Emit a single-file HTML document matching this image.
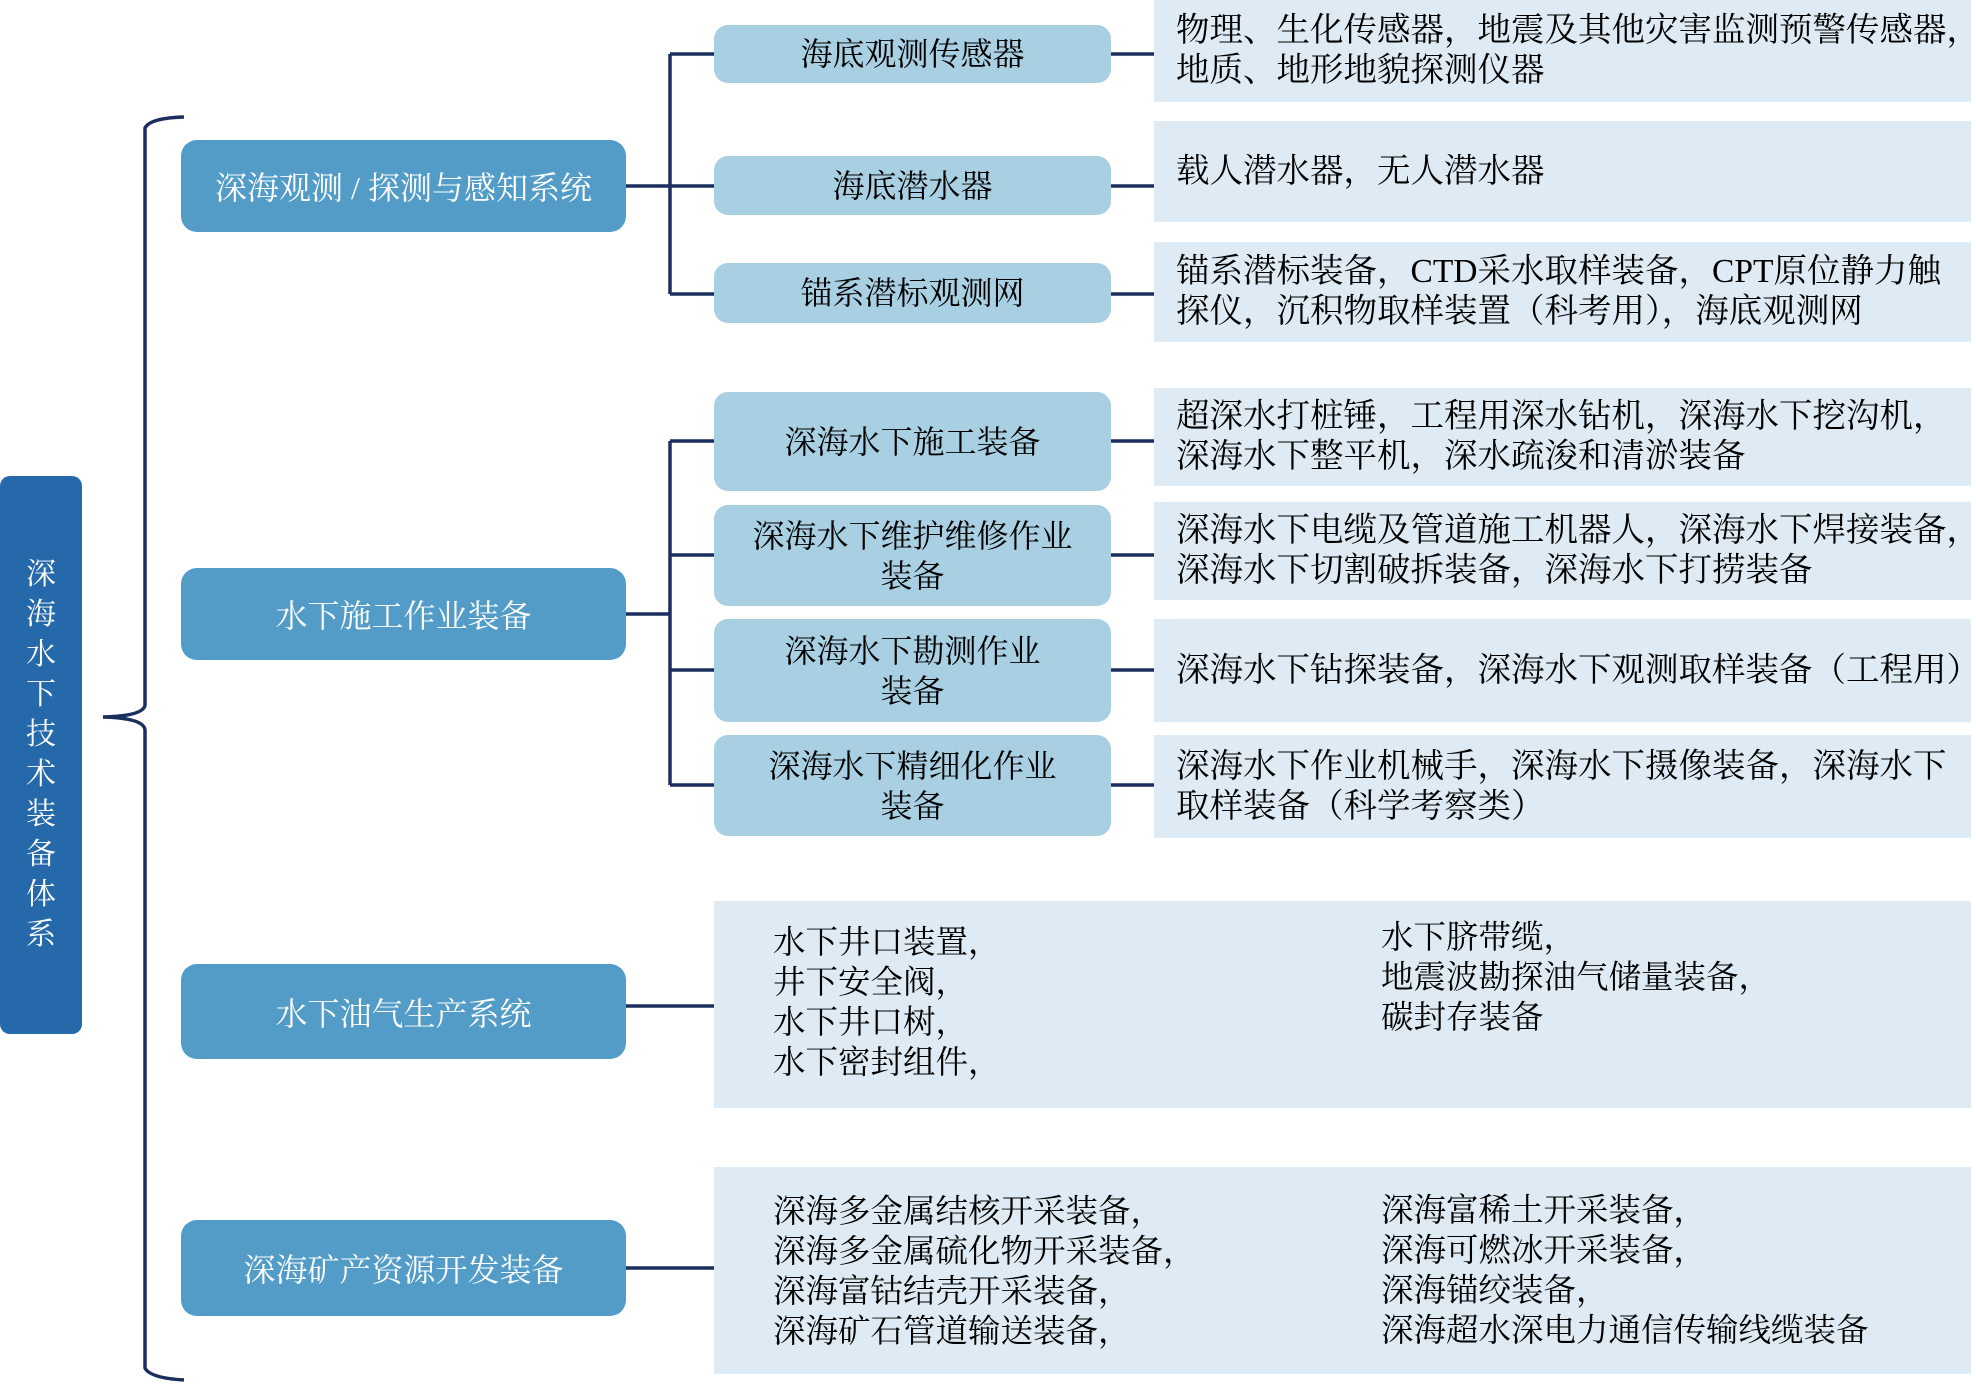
<!DOCTYPE html>
<html><head><meta charset="utf-8"><style>
body{margin:0;width:1976px;height:1384px;background:#fff;position:relative;overflow:hidden;font-family:"Liberation Serif","Noto Serif CJK SC",serif;}
.b{position:absolute;box-sizing:border-box;display:flex;align-items:center;justify-content:center;text-align:center;}
.l1{left:181px;width:445px;background:#529cc7;color:#fff;border-radius:16px;font-size:32px;}
.l2{left:714px;width:397px;background:#a8cfe2;color:#000;border-radius:14px;font-size:32px;line-height:40px;}
.l3{left:1154px;width:817px;background:#deebf4;color:#000;font-size:33.5px;line-height:40px;justify-content:flex-start;text-align:left;padding-left:22px;white-space:nowrap;}
.big{position:absolute;left:714px;width:1257px;background:#deebf4;}
.t{position:absolute;font-size:32.5px;color:#000;white-space:nowrap;line-height:40px;}
</style></head><body>
<div class="b" style="left:0;top:476px;width:82px;height:558px;background:#2569aa;border-radius:10px;color:#fff;font-size:30px;line-height:40px;flex-direction:column;">深<br>海<br>水<br>下<br>技<br>术<br>装<br>备<br>体<br>系</div>
<svg width="1976" height="1384" style="position:absolute;left:0;top:0" fill="none" stroke="#1b2f5e" stroke-width="3.5">
<path d="M184 117 Q150 118 145 128 L145 705 Q144 716 103 717 Q144 718 145 730 L145 1368 Q150 1378 184 1380"/>
<path d="M626 186 H670 M670 54 V294 M670 54 H714 M670 186 H714 M670 294 H714"/>
<path d="M1111 54 H1154 M1111 186 H1154 M1111 294 H1154"/>
<path d="M626 614 H670 M670 441 V785 M670 441 H714 M670 555 H714 M670 670 H714 M670 785 H714"/>
<path d="M1111 441 H1154 M1111 555 H1154 M1111 670 H1154 M1111 785 H1154"/>
<path d="M626 1006 H714 M626 1268 H714"/>
</svg>
<div class="b l1" style="top:140px;height:92px;">深海观测 / 探测与感知系统</div>
<div class="b l1" style="top:568px;height:92px;">水下施工作业装备</div>
<div class="b l1" style="top:964px;height:95px;">水下油气生产系统</div>
<div class="b l1" style="top:1220px;height:96px;">深海矿产资源开发装备</div>
<div class="b l2" style="top:25px;height:58px;">海底观测传感器</div>
<div class="b l2" style="top:156px;height:59px;">海底潜水器</div>
<div class="b l2" style="top:263px;height:60px;">锚系潜标观测网</div>
<div class="b l2" style="top:392px;height:99px;">深海水下施工装备</div>
<div class="b l2" style="top:505px;height:101px;">深海水下维护维修作业<br>装备</div>
<div class="b l2" style="top:619px;height:103px;">深海水下勘测作业<br>装备</div>
<div class="b l2" style="top:735px;height:101px;">深海水下精细化作业<br>装备</div>
<div class="b l3" style="top:0px;height:102px;">物理、生化传感器，地震及其他灾害监测预警传感器，<br>地质、地形地貌探测仪器</div>
<div class="b l3" style="top:121px;height:101px;">载人潜水器，无人潜水器</div>
<div class="b l3" style="top:242px;height:100px;">锚系潜标装备，CTD采水取样装备，CPT原位静力触<br>探仪，沉积物取样装置（科考用），海底观测网</div>
<div class="b l3" style="top:388px;height:98px;">超深水打桩锤，工程用深水钻机，深海水下挖沟机，<br>深海水下整平机，深水疏浚和清淤装备</div>
<div class="b l3" style="top:502px;height:98px;">深海水下电缆及管道施工机器人，深海水下焊接装备，<br>深海水下切割破拆装备，深海水下打捞装备</div>
<div class="b l3" style="top:619px;height:103px;">深海水下钻探装备，深海水下观测取样装备（工程用）</div>
<div class="b l3" style="top:735px;height:103px;">深海水下作业机械手，深海水下摄像装备，深海水下<br>取样装备（科学考察类）</div>
<div class="big" style="top:901px;height:207px;"></div>
<div class="big" style="top:1167px;height:207px;"></div>
<div class="t" style="left:773px;top:923px;">水下井口装置，<br>井下安全阀，<br>水下井口树，<br>水下密封组件，</div>
<div class="t" style="left:1381px;top:918px;">水下脐带缆，<br>地震波勘探油气储量装备，<br>碳封存装备</div>
<div class="t" style="left:773px;top:1192px;">深海多金属结核开采装备，<br>深海多金属硫化物开采装备，<br>深海富钴结壳开采装备，<br>深海矿石管道输送装备，</div>
<div class="t" style="left:1381px;top:1191px;">深海富稀土开采装备，<br>深海可燃冰开采装备，<br>深海锚绞装备，<br>深海超水深电力通信传输线缆装备</div>
</body></html>
